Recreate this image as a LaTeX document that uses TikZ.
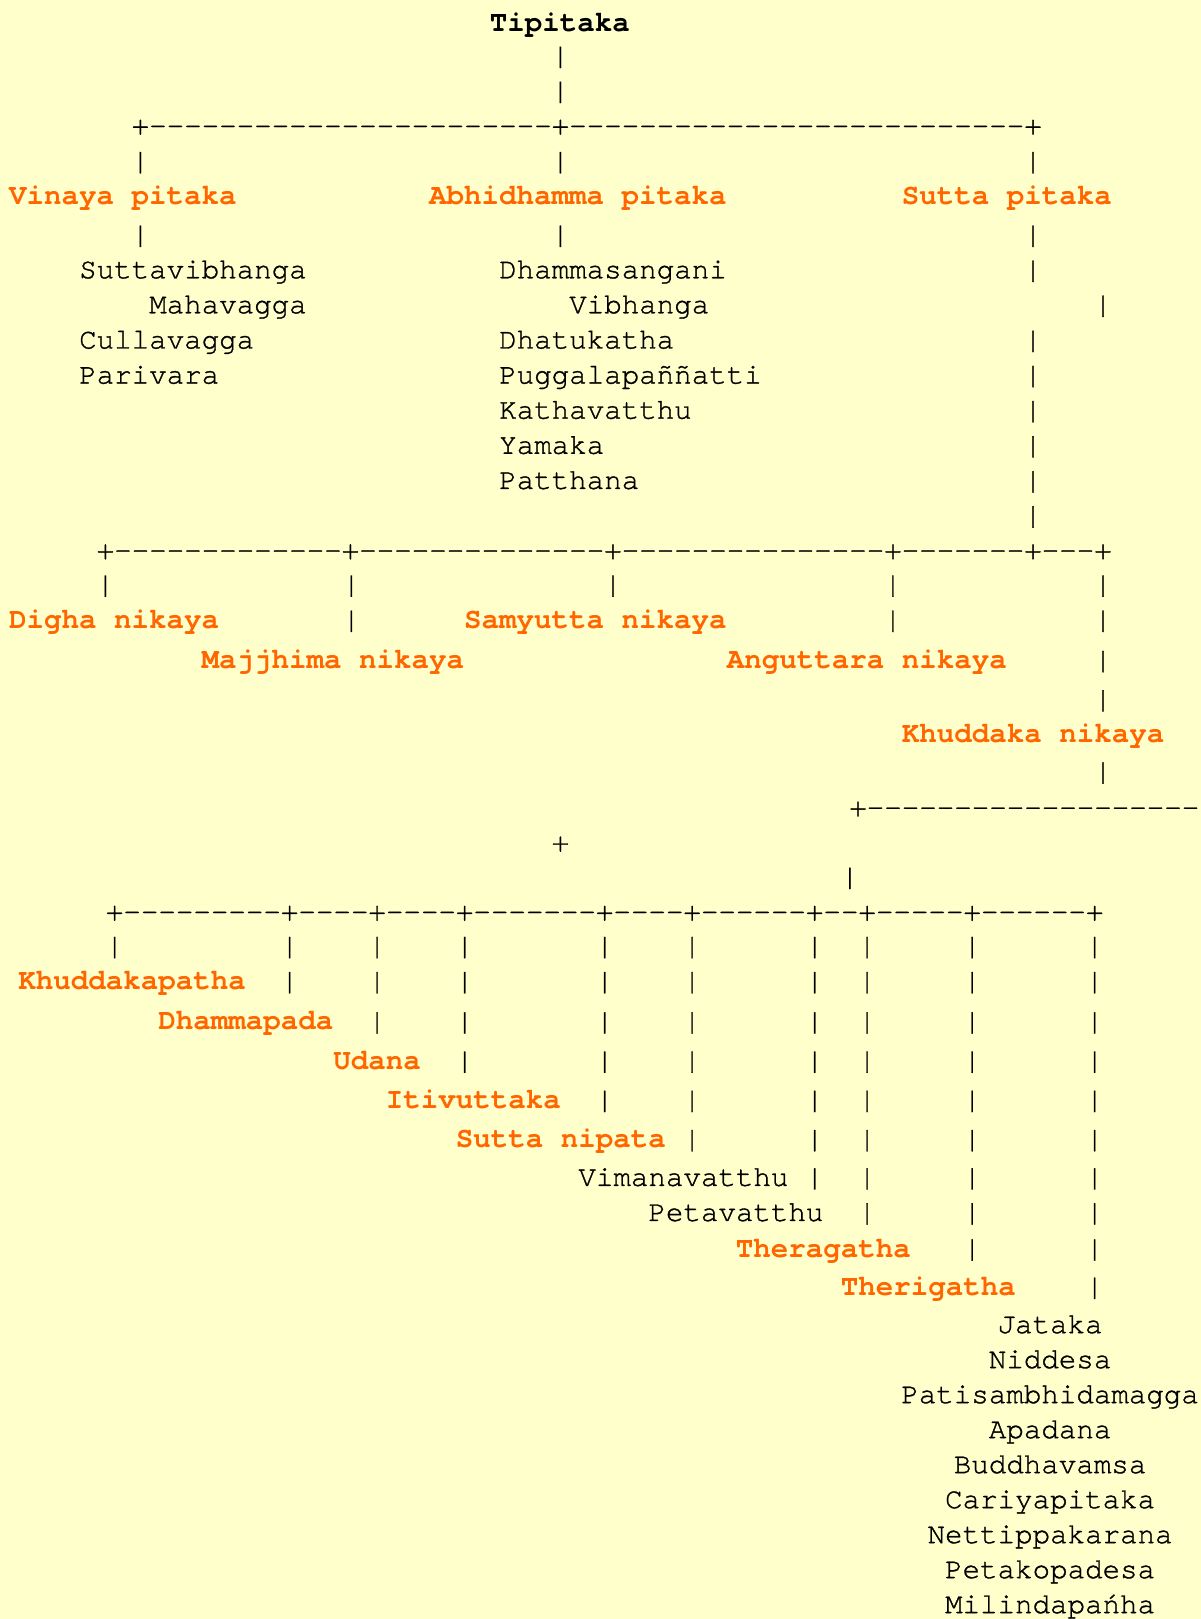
\documentclass[tikz,border=0pt]{standalone}
\usepackage{fontspec}
\newfontfamily\monof{texgyrecursor-regular.otf}[BoldFont=texgyrecursor-bold.otf,UprightFeatures={FakeBold=1}]
\definecolor{bg}{HTML}{FFFFCC}
\definecolor{org}{HTML}{FF6600}
\begin{document}
\begin{tikzpicture}[x=1pt,y=-1pt,
  every node/.style={inner sep=0pt,outer sep=0pt},
  txt/.style={anchor=base west,text=black,font=\monof\fontsize{28.25}{34}\selectfont},
  ctr/.style={anchor=base,text=black,font=\monof\fontsize{28.25}{34}\selectfont},
  lbl/.style={anchor=base west,text=org,font=\monof\bfseries\fontsize{28.25}{34}\selectfont},
  ttl/.style={anchor=base west,text=black,font=\monof\bfseries\fontsize{28.25}{34}\selectfont},
  asc/.style={anchor=base west,text=black,font=\monof\fontsize{28.25}{34}\selectfont},
  pipe/.style={anchor=base,text=black,font=\monof\fontsize{28.25}{34}\selectfont}]
\fill[bg] (0,0) rectangle (1163,1568);
\useasboundingbox (0,0) rectangle (1163,1568);

% ---------- top level ----------
\node[ttl] (tipitaka) at (474.5,30.7) {Tipitaka};
\node[pipe] (p1) at (542.8,62.4) {|};
\node[pipe] (p2) at (542.8,96.3) {|};
\node[asc] (row1) at (127.55,130.3) {+-----------------------+--------------------------+};
\foreach \x [count=\i] in {136.0,542.8,1000.5}{
  \node[pipe] (pa\i) at (\x,164.3) {|};
  \node[pipe] (pb\i) at (\x,235.7) {|};
}
\node[lbl] (vinaya) at (8.9,198.5) {Vinaya pitaka};
\node[lbl] (abhi) at (415.7,198.5) {Abhidhamma pitaka};
\node[lbl] (sutta) at (873.35,198.5) {Sutta pitaka};

\node[txt] (v1) at (76.7,269.5) {Suttavibhanga};
\node[txt] (v2) at (144.5,303.4) {Mahavagga};
\node[txt] (v3) at (76.7,337.5) {Cullavagga};
\node[txt] (v4) at (76.7,371.5) {Parivara};

\node[txt] (a1) at (483.5,269.5) {Dhammasangani};
\node[txt] (a2) at (551.3,303.4) {Vibhanga};
\node[txt] (a3) at (483.5,337.5) {Dhatukatha};
\node[txt] (a4) at (483.5,371.5) {Puggalapaññatti};
\node[txt] (a5) at (483.5,405.5) {Kathavatthu};
\node[txt] (a6) at (483.5,439.5) {Yamaka};
\node[txt] (a7) at (483.5,473.5) {Patthana};

\node[pipe] (s0) at (1000.5,269.5) {|};
\node[pipe] (s1) at (1068.3,303.4) {|};
\foreach \y [count=\i] in {337.5,371.5,405.5,439.5,473.5,507.5}{
  \node[pipe] (sc\i) at (1000.5,\y) {|};
}

% ---------- nikayas ----------
\node[asc] (row2) at (93.65,541.6) {+-------------+--------------+---------------+-------+---+};
\foreach \x [count=\i] in {102.1,340.3,593.6,864.7,1068.3}{
  \node[pipe] (na\i) at (\x,574.5) {|};
}
\foreach \x [count=\i] in {340.3,864.7,1068.3}{
  \node[pipe] (nb\i) at (\x,608.5) {|};
}
\node[pipe] (nc) at (1068.3,647.5) {|};
\node[pipe] (nd) at (1068.3,685.5) {|};
\node[pipe] (ne) at (1068.3,755.5) {|};

\node[lbl] (digha) at (8.9,608.5) {Digha nikaya};
\node[lbl] (samy) at (449.6,608.5) {Samyutta nikaya};
\node[lbl] (majj) at (195.35,647.5) {Majjhima nikaya};
\node[lbl] (angu) at (703.85,647.5) {Anguttara nikaya};
\node[lbl] (khud) at (873.35,719.5) {Khuddaka nikaya};

\node[asc] (row3) at (822.5,790.6) {+-------------------};
\node[asc] (plus) at (534.35,824.6) {+};
\node[pipe] (kp) at (823.0,857.5) {|};

% ---------- khuddaka books ----------
\node[asc] (row4) at (102.55,891.6) {+---------+----+----+-------+----+------+--+-----+------+};
\def\cols{111.0,280.5,365.2,450.0,585.6,670.3,789.0,839.8,941.5,1060.1}
\foreach \y [count=\r] in {924.5,958.5,997.5,1035.5,1073.5,1111.5,1148.5,1182.5,1217.5,1254.5}{
  \foreach \x [count=\c] in \cols {
    \ifnum\c>\numexpr\r-1\relax
      \node[pipe] (k\r-\c) at (\x,\y) {|};
    \fi
  }
}

\node[lbl] (b1) at (17.8,958.5) {Khuddakapatha};
\node[lbl] (b2) at (153.4,997.5) {Dhammapada};
\node[lbl] (b3) at (322.9,1035.5) {Udana};
\node[lbl] (b4) at (373.75,1073.5) {Itivuttaka};
\node[lbl] (b5) at (441.55,1111.5) {Sutta nipata};
\node[txt] (b6) at (560.2,1148.5) {Vimanavatthu};
\node[txt] (b7) at (628.0,1182.5) {Petavatthu};
\node[lbl] (b8) at (712.75,1217.5) {Theragatha};
\node[lbl] (b9) at (814.45,1254.5) {Therigatha};

\node[ctr] (c1) at (1017,1291.1) {Jataka};
\node[ctr] (c2) at (1017,1325.0) {Niddesa};
\node[ctr] (c3) at (1017,1358.9) {Patisambhidamagga};
\node[ctr] (c4) at (1017,1392.8) {Apadana};
\node[ctr] (c5) at (1017,1426.7) {Buddhavamsa};
\node[ctr] (c6) at (1017,1460.6) {Cariyapitaka};
\node[ctr] (c7) at (1017,1494.5) {Nettippakarana};
\node[ctr] (c8) at (1017,1528.4) {Petakopadesa};
\node[ctr] (c9) at (1017,1562.3) {Milindapańha};
\end{tikzpicture}
\end{document}
